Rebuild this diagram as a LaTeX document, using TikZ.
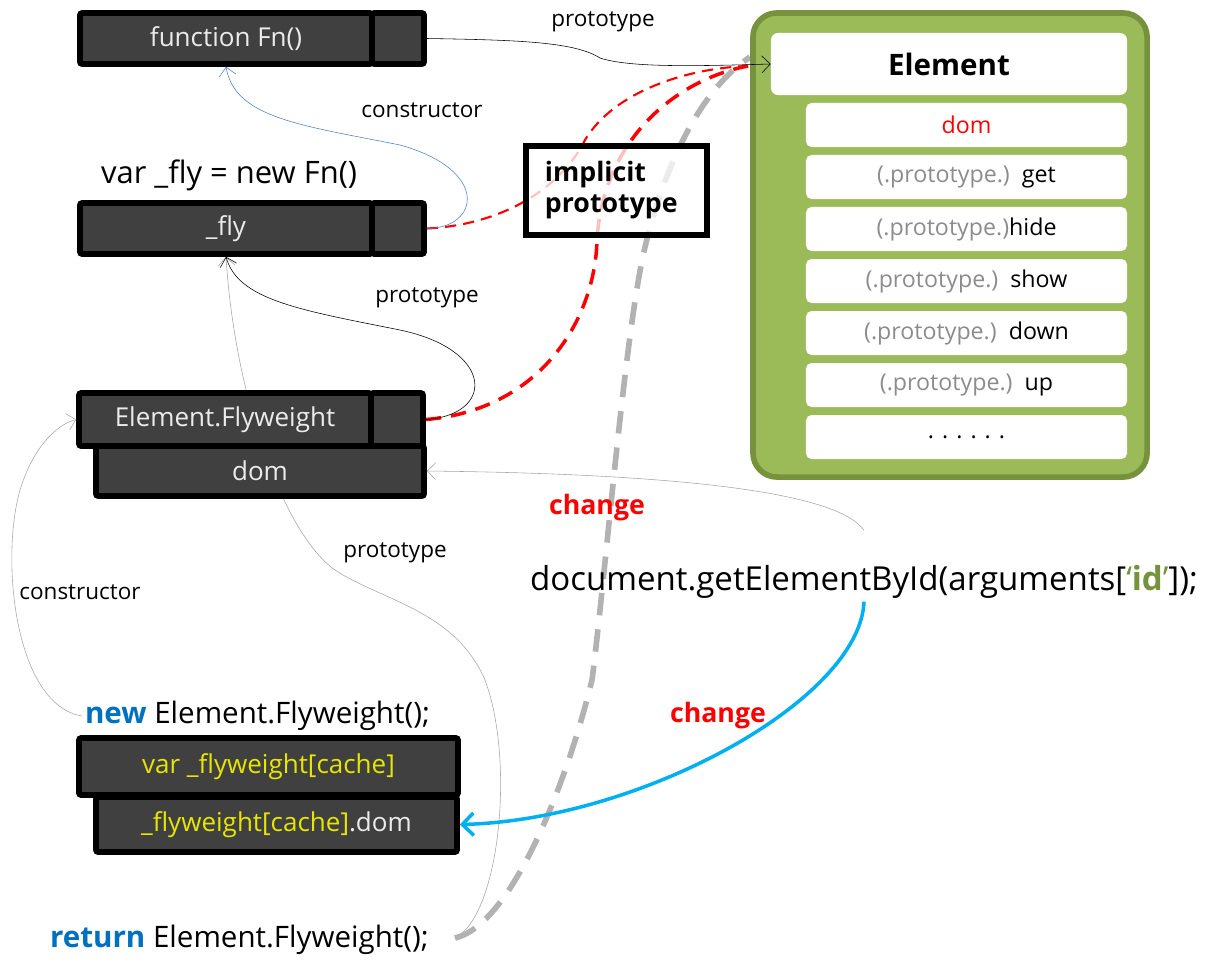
\documentclass[tikz,border=0pt]{standalone}
\usepackage{fontspec}
\setmainfont{Open Sans}
\usetikzlibrary{positioning, arrows.meta, backgrounds}

\definecolor{cellgray}{HTML}{404040}
\definecolor{leafgreen}{HTML}{9BBB59}
\definecolor{leafedge}{HTML}{76923C}
\definecolor{ctorblue}{HTML}{4F81BD}
\definecolor{keyblue}{HTML}{0070C0}
\definecolor{skyblue}{HTML}{00B0F0}
\definecolor{cacheyellow}{HTML}{E6E600}
\definecolor{protogray}{HTML}{8C8C8C}

\tikzset{
  cell/.style={draw=black, line width=4pt, fill=cellgray, rounded corners=1.5pt, text=white!92!black,
    minimum height=1.275cm, inner sep=0pt, font=\fontsize{18.5}{22}\selectfont},
  slot/.style={cell, minimum width=1.3cm},
  row/.style={fill=white, rounded corners=4pt, minimum width=8.025cm, minimum height=1.1cm,
    inner sep=0pt, font=\fontsize{16.5}{20}\selectfont},
  link/.style={-{Straight Barb[length=6pt,width=12pt]}, thin},
  lbl/.style={font=\fontsize{16}{19}\selectfont},
  change/.style={text=red, font=\bfseries\fontsize{19}{22}\selectfont},
  code/.style={anchor=west, inner sep=2pt, font=\fontsize{21}{25}\selectfont},
}

\begin{document}
\begin{tikzpicture}[x=0.025cm, y=-0.025cm]
\useasboundingbox (0,0) rectangle (1207,967);

% Element object
\node[draw=leafedge, line width=4pt, fill=leafgreen, rounded corners=0.6cm, minimum width=9.85cm, minimum height=11.6cm] (obj) at (950,245) {};
\node[fill=white, rounded corners=5pt, minimum width=8.9cm, minimum height=1.55cm, font=\bfseries\fontsize{21}{25}\selectfont] (elem) at (949,64) {Element};
\node[row, text=red] (row0) at (966.5,125) {dom};
\foreach \m [count=\i] in {{\ \ get}, {hide}, {\ \ show}, {\ \ down}, {\ \ up}}
  \node[row] (row\i) at (966.5,125+52*\i) {\textcolor{protogray}{(.prototype.)}\m};
\node[row] (row6) at (966.5,437) {. . . . . .};

% function and instance
\node[cell, minimum width=7.3cm] (fn) at (226,38.5) {function Fn()};
\node[slot, right=-4pt of fn] (fnslot) {};
\node[code, font=\fontsize{22}{26}\selectfont] (flydecl) at (98,175) {var \_fly = new Fn()};
\node[cell, minimum width=7.3cm] (fly) at (226,228.5) {\_fly};
\node[slot, right=-4pt of fly] (flyslot) {};

% Element.Flyweight
\node[cell, minimum width=8.2cm, minimum height=1.25cm] (fwdom) at (260,471) {dom};
\node[cell, minimum width=7.3cm, minimum height=1.325cm] (fw) at (225,419.5) {Element.Flyweight};
\node[slot, minimum height=1.325cm, right=-4pt of fw] (fwslot) {};

% cache
\node[code] (newcall) at (82,716) {\textcolor{keyblue}{\bfseries new} Element.Flyweight();};
\node[cell, minimum width=9.025cm, minimum height=1.375cm, text=cacheyellow] (cdom) at (276.5,824.5) {\_flyweight[cache]\textcolor{white!92!black}{.dom}};
\node[cell, minimum width=9.475cm, minimum height=1.425cm, text=cacheyellow] (cvar) at (268.5,766.5) {var \_flyweight[cache]};
\node[code] (retcall) at (47,940) {\textcolor{keyblue}{\bfseries return} Element.Flyweight();};
\coordinate (retend) at (455,938);

\node[anchor=west, inner sep=2pt, font=\fontsize{23.5}{28}\selectfont] (doc) at (527,582)
  {document.getElementById(arguments[\textcolor{leafedge}{‘\textbf{id}’}]);};

\node[draw=black, line width=4pt, fill=white, fill opacity=0.75, text opacity=1, minimum width=4.525cm, minimum height=2.225cm,
  text width=3.575cm, align=left, font=\bfseries\fontsize{19}{22}\selectfont] (implicit) at (616.5,190.5) {implicit\\prototype};
\coordinate (hub) at (748,66);
\coordinate (hubg) at (750,57);

% labels
\node[lbl] (fnproto) at (603,22) {prototype};
\node[lbl] (flyctor) at (422,110) {constructor};
\node[lbl] (fwproto) at (427,298) {prototype};
\node[lbl] (retproto) at (395,553) {prototype};
\node[lbl] (newctor) at (80,592) {constructor};
\node[change] (chg1) at (597,508) {change};
\node[change] (chg2) at (718,716) {change};

% links
\draw[link] (fnslot.east) .. controls (520,40) and (575,42) .. (600,58) .. controls (630,68) and (700,66) .. (elem.west);
\draw[link, ctorblue] (flyslot.east) .. controls (480,228) and (490,170) .. (400,145) .. controls (300,125) and (235,118) .. (fn.south);
\draw[link] (fwslot.east) .. controls (495,415) and (495,350) .. (400,330) .. controls (300,310) and (238,300) .. (fly.south);
\draw[link, gray!70] (newcall.west) .. controls (15,705) and (0,560) .. (20,490) .. controls (32,450) and (55,425) .. (fw.west);
\draw[link, gray!70] ([yshift=0.8cm]doc.north) .. controls (840,495) and (700,474) .. (fwdom.east);
\draw[-{Straight Barb[length=8pt,width=16pt]}, skyblue, line width=2.5pt] (doc.south) .. controls (860,700) and (640,820) .. (cdom.east);

% implicit prototype chain
\begin{scope}[on background layer]
\draw[link, gray!70] (retend) .. controls (500,915) and (515,760) .. (485,680) .. controls (455,610) and (380,600) .. (335,570) .. controls (285,535) and (235,400) .. (fly.south);
\draw[red, line width=1.5pt, dash pattern=on 8pt off 5pt] (flyslot.east) .. controls (500,225) and (560,190) .. (585,140) .. controls (615,90) and (690,68) .. (hub);
\draw[red, line width=2.5pt, dash pattern=on 11pt off 7pt] (fwslot.east) .. controls (540,410) and (595,320) .. (597,240) .. controls (603,140) and (675,80) .. (hub);
\draw[gray!60, line width=4pt, dash pattern=on 16pt off 10pt] (retend) .. controls (510,925) and (565,790) .. (592,680) .. controls (605,580) and (625,330) .. (645,247) .. controls (665,165) and (700,90) .. (hubg);
\end{scope}
\end{tikzpicture}
\end{document}
